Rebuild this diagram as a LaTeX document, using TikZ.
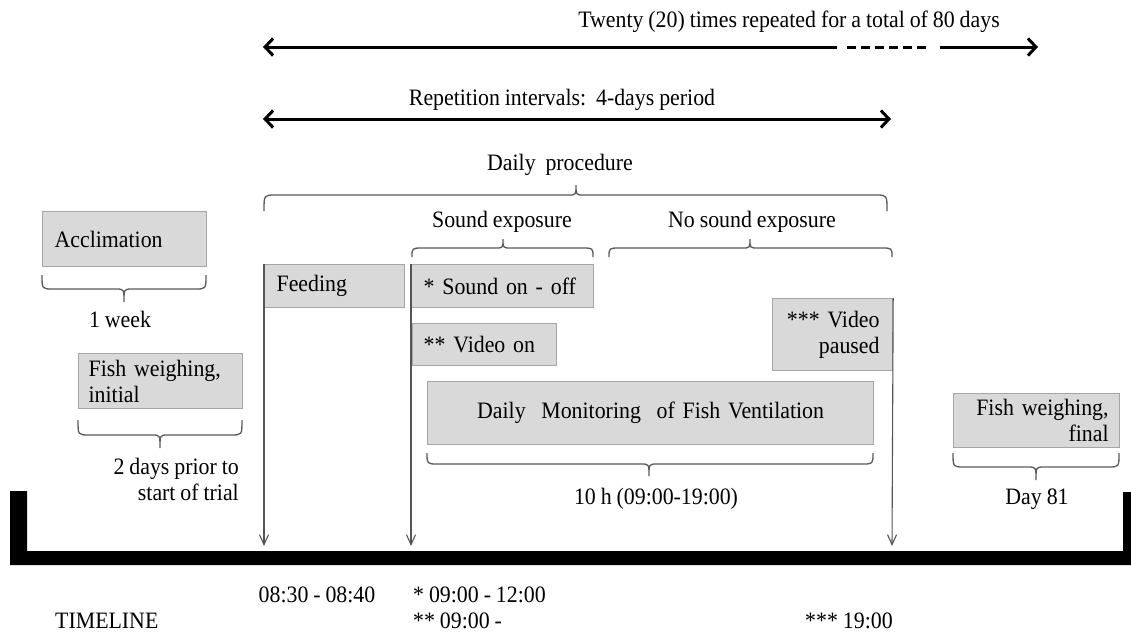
\documentclass[tikz,border=0pt]{standalone}
\usepackage{fontspec}
\setmainfont{Liberation Serif}[FakeStretch=0.93,WordSpace={0.9}]
\usetikzlibrary{arrows.meta}
\definecolor{boxfill}{HTML}{D9D9D9}
\definecolor{boxline}{HTML}{A6A6A6}
\definecolor{brcol}{HTML}{5A5A5A}
\definecolor{vcol}{HTML}{555555}
\newcommand\curlyb[6]{%
  \draw[brc] (#1,#4) .. controls (#1,#5) .. (#1+11,#5) -- (#3-8,#5) .. controls (#3,#5) .. (#3,#6)
    .. controls (#3,#5) .. (#3+8,#5) -- (#2-11,#5) .. controls (#2,#5) .. (#2,#4);}
\begin{document}
\begin{tikzpicture}[x=1pt,y=-1pt,
  every node/.style={font=\fontsize{23.5}{26}\selectfont, inner sep=0pt},
  box/.style={draw=boxline, fill=boxfill, line width=1.2pt, anchor=north west, inner ysep=0pt},
  brc/.style={draw=brcol, line width=1.3pt},
  varrow/.style={draw=vcol, line width=1.1pt, -{Straight Barb[length=10pt,width=9pt]}},
  bigarrow/.style={line width=3pt}]
\fill[white] (0,0) rectangle (1131,633);
\useasboundingbox (0,0) rectangle (1131,633);

% top arrows
\coordinate (a1) at (263,47); \coordinate (a2) at (837,47);
\coordinate (a3) at (847,47); \coordinate (a4) at (926,47);
\coordinate (a5) at (940,47); \coordinate (a6) at (1038,47);
\draw[bigarrow, {Straight Barb[length=8pt,width=17pt]}-] (a1) -- (a2);
\draw[bigarrow, dash pattern=on 9pt off 5pt] (a3) -- (a4);
\draw[bigarrow, -{Straight Barb[length=8pt,width=17pt]}] (a5) -- (a6);
\node (twenty) at (789,22) {Twenty (20) times repeated for a total of 80 days};
\coordinate (r1) at (263,119); \coordinate (r2) at (891,119);
\draw[bigarrow, {Straight Barb[length=8pt,width=17pt]}-{Straight Barb[length=8pt,width=17pt]}] (r1) -- (r2);
\node (rep) at (562,100) {Repetition intervals:\ \ 4-days period};

% daily procedure
\node (daily) at (560,165) {Daily\ \ procedure};
\curlyb{264}{887}{576}{211}{195}{185}
\node (sexp) at (502,222) {Sound exposure};
\curlyb{412}{593}{503}{257}{248}{239}
\node (nsexp) at (752,222) {No sound exposure};
\curlyb{609}{892}{750}{257}{248}{239}

% left boxes
\node[box, text width=140pt, inner xsep=12pt, minimum height=55pt, align=left] (accl) at (42,211) {Acclimation};
\curlyb{42}{206}{124}{275}{289}{302}
\node (week) at (120,319) {1 week};
\node[box, text width=144pt, inner xsep=10pt, minimum height=55pt, align=left] (finit) at (78,353) {Fish weighing,\\initial};
\curlyb{78}{242}{160}{420}{435}{448}
\node[anchor=east, align=right] (prior) at (239,479.5) {2 days prior to\\start of trial};

% daily boxes
\node[box, text width=116pt, inner xsep=12pt, minimum height=43pt, align=left] (feed) at (264,264) {Feeding};
\node[box, text width=158pt, inner xsep=12pt, minimum height=43pt, align=left] (snd) at (411,264) {* Sound on - off};
\node[box, text width=122pt, inner xsep=11pt, minimum height=42pt, align=left] (vid) at (412,323) {** Video on};
\node[box, text width=94pt, inner xsep=13pt, minimum height=72pt, align=right] (paused) at (772,298) {*** Video\\paused};
\node[box, text width=446pt, inner xsep=0pt, minimum height=63pt, align=center] (mon) at (427,381) {Daily\ \ Monitoring\ \ of Fish Ventilation};
\curlyb{427}{873}{649}{453}{464}{476}
\node (tenh) at (656,499) {10 h (09:00-19:00)};

% final
\node[box, text width=144pt, inner xsep=11pt, minimum height=54pt, align=right] (ffin) at (953,393) {Fish weighing,\\final};
\curlyb{953}{1119}{1036}{453}{467}{480}
\node (day81) at (1037,499) {Day 81};

% timeline bar
\fill[black] (10,491) -- (27,491) -- (27,551) -- (1123,551) -- (1123,492) -- (1131,492) -- (1131,565) -- (10,565) -- cycle;

% vertical arrows
\coordinate (t1) at (264,546); \coordinate (t2) at (411,546); \coordinate (t3) at (892,546);
\draw[varrow] (feed.north west) -- (t1);
\draw[varrow] (snd.north west) -- (t2);
\draw[varrow] (paused.north east) -- (t3);

% bottom labels
\node (tfeed) at (317,595) {08:30 - 08:40};
\node[anchor=west] (tsnd) at (413,595) {* 09:00 - 12:00};
\node[anchor=west] (tvid) at (413,621) {** 09:00 -};
\node[anchor=west] (tline) at (55,621) {TIMELINE};
\node[anchor=west] (tend) at (805,621) {*** 19:00};
\end{tikzpicture}
\end{document}
